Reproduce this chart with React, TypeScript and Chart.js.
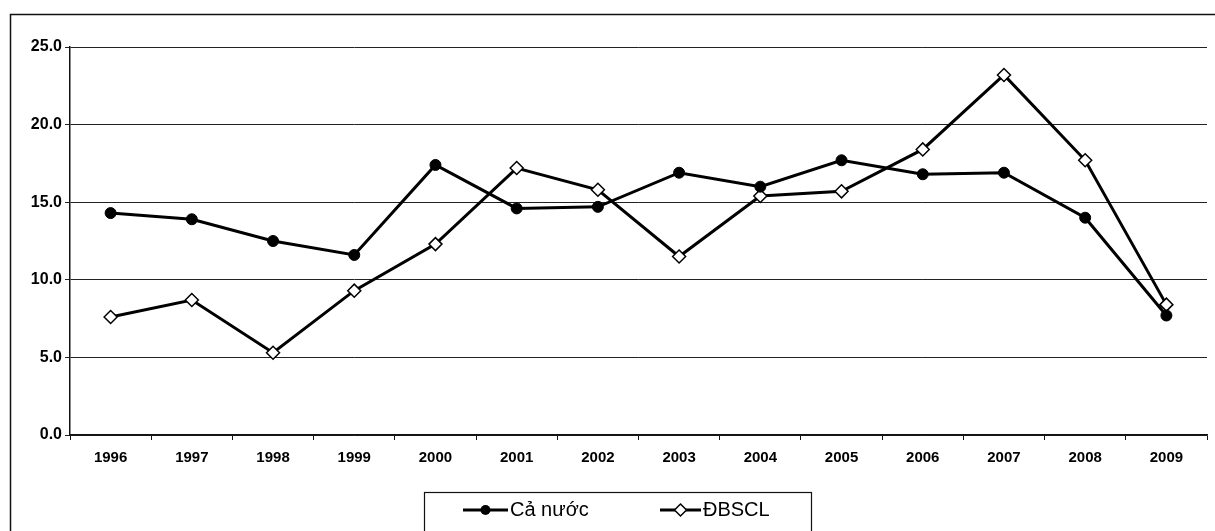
import React, { useEffect, useRef } from "react";
import { Chart, registerables } from "chart.js";

Chart.register(...registerables);

const categories = ["1996", "1997", "1998", "1999", "2000", "2001", "2002", "2003", "2004", "2005", "2006", "2007", "2008", "2009"];
const caNuoc = [14.3, 13.9, 12.5, 11.6, 17.4, 14.6, 14.7, 16.9, 16.0, 17.7, 16.8, 16.9, 14.0, 7.7];
const dbscl = [7.6, 8.7, 5.3, 9.3, 12.3, 17.2, 15.8, 11.5, 15.4, 15.7, 18.4, 23.2, 17.7, 8.4];
const seriesNames = ["Cả nước", "ĐBSCL"];
const yTicks = [0, 5, 10, 15, 20, 25];

const FONT = "'Liberation Sans', Arial, sans-serif";

const framePlugin = {
  id: "frame",
  afterDraw(chart: any) {
    const ctx = chart.ctx as CanvasRenderingContext2D;
    ctx.save();
    // outer frame
    ctx.strokeStyle = "#111";
    ctx.lineWidth = 1.5;
    ctx.strokeRect(10.5, 14.5, 1400, 700);
    // legend box
    const bx = 424.5, by = 492.5, bw = 387, bh = 80;
    ctx.lineWidth = 1.2;
    ctx.strokeRect(bx, by, bw, bh);
    const ty = 510;
    const items = chart.data.datasets;
    const pos = [
      { x1: 463, x2: 508, tx: 510 },
      { x1: 660, x2: 701, tx: 703 },
    ];
    items.forEach((ds: any, i: number) => {
      const p = pos[i];
      ctx.strokeStyle = "#000";
      ctx.lineWidth = 3;
      ctx.beginPath();
      ctx.moveTo(p.x1, ty);
      ctx.lineTo(p.x2, ty);
      ctx.stroke();
      const cx = (p.x1 + p.x2) / 2;
      if (i === 0) {
        ctx.fillStyle = "#000";
        ctx.beginPath();
        ctx.arc(cx, ty, 5, 0, Math.PI * 2);
        ctx.fill();
      } else {
        ctx.fillStyle = "#fff";
        ctx.lineWidth = 1.5;
        ctx.beginPath();
        ctx.moveTo(cx, ty - 6);
        ctx.lineTo(cx + 6, ty);
        ctx.lineTo(cx, ty + 6);
        ctx.lineTo(cx - 6, ty);
        ctx.closePath();
        ctx.fill();
        ctx.stroke();
      }
      ctx.fillStyle = "#000";
      ctx.font = `20px ${FONT}`;
      ctx.textBaseline = "middle";
      ctx.textAlign = "left";
      ctx.fillText(ds.label, p.tx, ty);
    });
    ctx.restore();
  },
};

export default function App() {
  const ref = useRef<HTMLCanvasElement | null>(null);
  useEffect(() => {
    document.body.style.margin = "0";
    document.body.style.background = "#fff";
    const canvas = ref.current!;
    const chart = new Chart(canvas, {
      type: "line",
      data: {
        labels: categories,
        datasets: [
          {
            label: seriesNames[0],
            data: caNuoc,
            borderColor: "#000",
            backgroundColor: "#000",
            borderWidth: 3,
            pointStyle: "circle",
            pointRadius: 5.5,
            pointBackgroundColor: "#000",
            pointBorderColor: "#000",
            pointBorderWidth: 1,
            tension: 0,
          },
          {
            label: seriesNames[1],
            data: dbscl,
            borderColor: "#000",
            backgroundColor: "#fff",
            borderWidth: 3,
            pointStyle: "rectRot",
            pointRadius: 6.5,
            pointBackgroundColor: "#fff",
            pointBorderColor: "#000",
            pointBorderWidth: 1.5,
            tension: 0,
          },
        ],
      },
      options: {
        responsive: false,
        animation: false,
        layout: { padding: { left: 0, top: 47, right: 2, bottom: 0 } },
        plugins: { legend: { display: false }, tooltip: { enabled: false } },
        scales: {
          x: {
            type: "category",
            offset: true,
            grid: {
              offset: true,
              drawOnChartArea: false,
              drawTicks: true,
              tickLength: 5,
              color: "#111",
              lineWidth: 1,
            },
            border: { display: true, color: "#111", width: 1.5 },
            ticks: {
              color: "#000",
              font: { family: FONT, size: 15, weight: "bold" },
              padding: 9,
              maxRotation: 0,
              autoSkip: false,
            },
            afterFit(scale: any) {
              scale.height = 96;
            },
          },
          y: {
            min: 0,
            max: 25,
            afterBuildTicks(scale: any) {
              scale.ticks = yTicks.map((v) => ({ value: v }));
            },
            grid: {
              drawOnChartArea: true,
              drawTicks: true,
              tickLength: 5,
              color: "#222",
              lineWidth: 1,
            },
            border: { display: true, color: "#111", width: 1.5 },
            ticks: {
              color: "#000",
              font: { family: FONT, size: 16, weight: "bold" },
              padding: 3,
              callback: (v: any) => Number(v).toFixed(1),
            },
            afterFit(scale: any) {
              scale.width = 70;
            },
          },
        },
      },
      plugins: [framePlugin],
    });
    return () => chart.destroy();
  }, []);
  return (
    <div style={{ width: 1215, height: 531, background: "#fff" }}>
      <canvas ref={ref} width={1215} height={531} style={{ display: "block" }} />
    </div>
  );
}
